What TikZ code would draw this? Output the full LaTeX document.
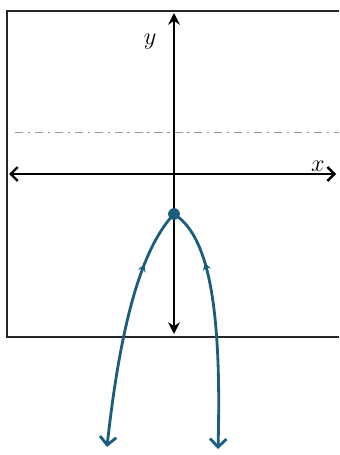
\documentclass[tikz,border=0pt]{standalone}
\usepackage{tikz}
\usetikzlibrary{arrows.meta,decorations.markings}
\definecolor{inkblue}{RGB}{28,92,124}
\tikzset{
  frame/.style={line width=1.6pt,black!85},
  axis/.style={line width=2pt,black},
  guide/.style={line width=0.8pt,black!40,dash pattern=on 7pt off 4pt on 2pt off 4pt},
  branch/.style={line width=2.4pt,inkblue,-{Straight Barb[length=7pt,width=14pt,line width=2.4pt]},
    postaction={decorate},decoration={markings,mark=at position 0.24 with {\arrowreversed{Stealth[length=6pt,width=7pt]}}}},
  vtx/.style={circle,fill=inkblue,inner sep=0pt,minimum size=10pt},
  dlab/.style={font=\huge\itshape}
}
\begin{document}
\begin{tikzpicture}[x=0.03cm,y=-0.03cm]
  \useasboundingbox (0,0) rectangle (339,455);
  % graph box, open on the right
  \draw[frame] (339,11) -- (7,11) -- (7,337) -- (339,337);
  \draw[guide] (15,132) -- (339,132);
  % axes
  \coordinate (xl) at (9,174); \coordinate (xr) at (336,174);
  \coordinate (yt) at (174,13); \coordinate (yb) at (174,334);
  \draw[axis,{Straight Barb[length=6pt,width=12pt]}-{Straight Barb[length=6pt,width=12pt]}] (xl) -- (xr);
  \draw[axis,{Stealth[length=10pt,width=10pt]}-{Stealth[length=10pt,width=10pt]}] (yt) -- (yb);
  \node[dlab] (ylab) at (150,42) {$y$};
  \node[dlab] (xlab) at (318,166) {$x$};
  % the two branches
  \node[vtx] (vx) at (174,214) {};
  \coordinate (lend) at (107,447); \coordinate (rend) at (218,449);
  \draw[branch] (vx.center) .. controls (145,245) and (122,310) .. (lend);
  \draw[branch] (vx.center) .. controls (207,235) and (222,300) .. (rend);
\end{tikzpicture}
\end{document}
